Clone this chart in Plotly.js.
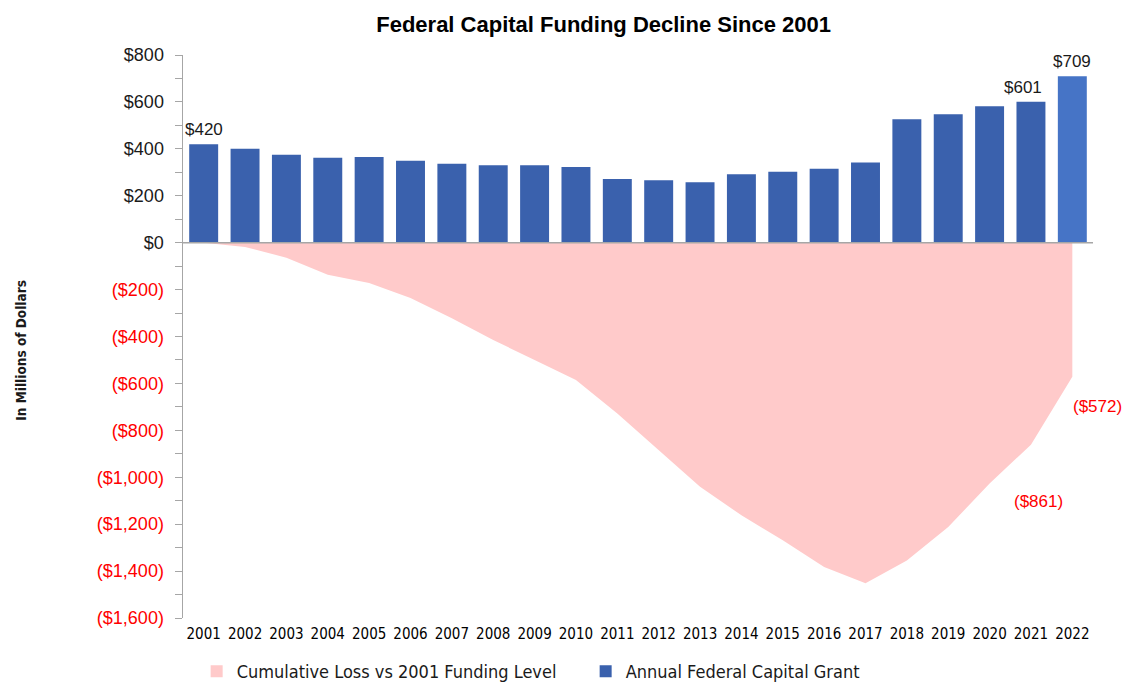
<!DOCTYPE html>
<html>
<head>
<meta charset="utf-8">
<script src="https://cdn.plot.ly/plotly-3.0.1.min.js"></script>
<style>html,body{margin:0;padding:0;background:#fff;}#chart{width:1122px;height:690px;}</style>
</head>
<body>
<div id="chart"></div>
<script>
// ---- data ----
const years = ["2001","2002","2003","2004","2005","2006","2007","2008","2009","2010","2011",
               "2012","2013","2014","2015","2016","2017","2018","2019","2020","2021","2022"];
const annualGrant = [420,400,375,362,365,349,336,330,330,323,271,266,258,292,302,315,342,526,547,582,601,709];
const cumulativeLoss = [0,-18,-64,-137,-172,-236,-322,-415,-500,-585,-728,-885,-1041,-1162,-1269,-1383,-1452,-1355,-1212,-1027,-861,-572];
const grantLabelYears = ["2001","2021","2022"];
const lossLabelYears = ["2021","2022"];
const yTickVals = [800,600,400,200,0,-200,-400,-600,-800,-1000,-1200,-1400,-1600];

const seriesNames = ["Cumulative Loss vs 2001 Funding Level","Annual Federal Capital Grant"];

// ---- styles ----
const FONT = "Liberation Sans, Arial, sans-serif";
const NARROW = "Liberation Sans Narrow, Arial Narrow, DejaVu Sans Condensed, Liberation Sans, sans-serif";
const BLUE = "#3a61ad";
const BLUE_LAST = "#4674c6";
const PINK = "#ffcaca";
const RED = "#ff0000";

function money(v){
  const s = "$" + Math.abs(v).toLocaleString("en-US");
  return v < 0 ? "(" + s + ")" : s;
}

const barColors = years.map((y,i)=> i === years.length-1 ? BLUE_LAST : BLUE);

const traces = [
  { // cumulative loss area
    type: "scatter", mode: "lines", x: years, y: cumulativeLoss,
    fill: "tozeroy", fillcolor: PINK, line: {width: 0, color: PINK},
    showlegend: false, hoverinfo: "x+y", name: seriesNames[0]
  },
  { // legend swatch for the area (zero-height bar)
    type: "bar", x: [years[0]], y: [0], name: seriesNames[0],
    marker: {color: PINK}, showlegend: true, hoverinfo: "skip"
  },
  {
    type: "bar", x: years, y: annualGrant, name: seriesNames[1],
    marker: {color: barColors}, hoverinfo: "x+y"
  }
];

const annotations = [];
grantLabelYears.forEach(yr=>{
  const i = years.indexOf(yr);
  annotations.push({x: i, y: annualGrant[i], xref: "x", yref: "y", text: money(annualGrant[i]),
    showarrow: false, yanchor: "bottom", yshift: 3, xshift: yr === "2021" ? -8 : 0,
    font: {family: FONT, size: 17, color: "#1a1a1a"}});
});
lossLabelYears.forEach(yr=>{
  const i = years.indexOf(yr);
  const last = i === years.length-1;
  annotations.push({x: i, y: cumulativeLoss[i], xref: "x", yref: "y", text: money(cumulativeLoss[i]),
    showarrow: false, xanchor: "center", yanchor: "middle",
    xshift: last ? 25 : 8, yshift: last ? -30 : -57,
    font: {family: FONT, size: 17, color: RED}});
});
annotations.push({
  text: "<b>In Millions of Dollars</b>", xref: "paper", yref: "paper", x: -0.179, y: 0.475,
  textangle: -90, showarrow: false, xanchor: "center", yanchor: "middle",
  font: {family: NARROW, size: 13.5, color: "#1a1a1a"}
});

const layout = {
  width: 1122, height: 690,
  paper_bgcolor: "#ffffff", plot_bgcolor: "#ffffff",
  margin: {l: 183, r: 29, t: 55, b: 72, autoexpand: false},
  title: {text: "<b>Federal Capital Funding Decline Since 2001</b>", x: 0.538, xref: "container",
          y: 1 - 24/690, yref: "container", yanchor: "middle", xanchor: "center",
          font: {family: FONT, size: 22, color: "#000"}},
  barmode: "overlay",
  bargap: 0.3,
  showlegend: true,
  legend: {orientation: "h", x: 0.015, xref: "paper", y: 0, yref: "container",
           xanchor: "left", yanchor: "bottom",
           font: {family: NARROW, size: 18, color: "#1a1a1a"}, traceorder: "normal",
           entrywidth: 344, entrywidthmode: "pixels"},
  xaxis: {type: "category", categoryorder: "array", categoryarray: years,
          range: [-0.5, years.length - 0.5], autorange: false,
          showgrid: false, zeroline: false, showline: false, ticks: "",
          tickfont: {family: NARROW, size: 15, color: "#000"}, ticklabelstandoff: 5,
          fixedrange: true},
  yaxis: {range: [-1600, 800], autorange: false, showgrid: false, zeroline: false, showline: true,
          linecolor: "#a6a6a6", linewidth: 1.5, ticks: "outside", ticklen: 7, tickcolor: "#a6a6a6",
          tickmode: "array", tickvals: yTickVals,
          ticktext: yTickVals.map(v => v < 0 ? '<span style="color:' + RED + '">' + money(v) + '</span>' : money(v)),
          tickfont: {family: FONT, size: 18, color: "#1a1a1a"}, ticklabelstandoff: 7,
          minor: {dtick: 100, ticks: "outside", ticklen: 7, tickcolor: "#a6a6a6", showgrid: false},
          fixedrange: true},
  shapes: [{type: "line", xref: "paper", yref: "y", x0: 0, x1: 1, y0: 0, y1: 0,
            line: {color: "#a6a6a6", width: 1.5}, layer: "above"}],
  annotations: annotations
};

Plotly.newPlot("chart", traces, layout, {displayModeBar: false, staticPlot: true});
</script>
</body>
</html>
